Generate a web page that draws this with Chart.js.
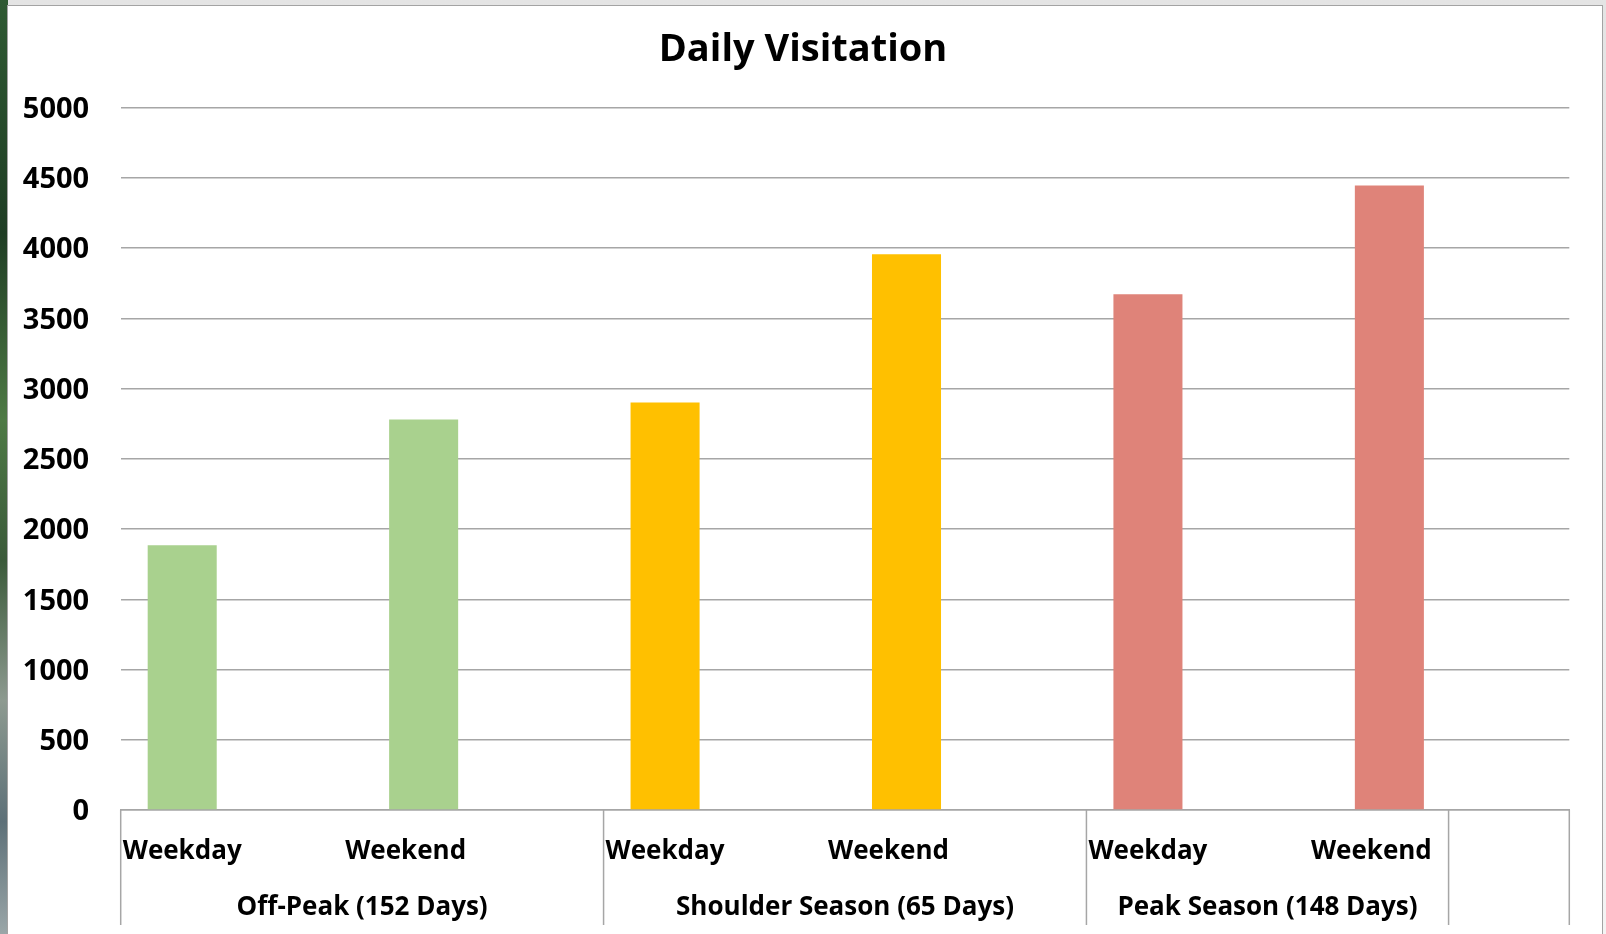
<!DOCTYPE html>
<html>
<head>
<meta charset="utf-8">
<title>Daily Visitation</title>
<script src="https://cdn.jsdelivr.net/npm/chart.js@4.4.1/dist/chart.umd.min.js"></script>
<style>
html,body{margin:0;padding:0;}
body{width:1606px;height:934px;overflow:hidden;position:relative;background:linear-gradient(180deg,#e4e4e4,#f4f4f4);}
#photo{position:absolute;left:0;top:0;width:8px;height:934px;
  background:linear-gradient(180deg,#2f5a33 0%,#1f3d24 25%,#4e7a45 45%,#3b5a3a 60%,#8d9a90 75%,#5d7078 88%,#9aa6a8 100%);}
#frame{position:absolute;left:7px;top:5px;width:1596px;height:960px;box-sizing:border-box;background:#fff;border:1.5px solid #a3a3a3;}
canvas{position:absolute;left:0;top:0;}
</style>
</head>
<body>
<div id="photo"></div>
<div id="frame"></div>
<canvas id="chart" width="1606" height="934"></canvas>
<script>
// categories (lower level) and season groups (upper level)
var categories = ['Weekday', 'Weekend', 'Weekday', 'Weekend', 'Weekday', 'Weekend'];
var seasons = ['Off-Peak (152 Days)', 'Shoulder Season (65 Days)', 'Peak Season (148 Days)'];
// daily visitors
var visitors = [1885, 2780, 2900, 3955, 3670, 4445];
// empty second series (leaves the gap to the right of each bar)
var blankSeries = [null, null, null, null, null, null];
var barColors = ['#A9D18E', '#A9D18E', '#FFC000', '#FFC000', '#DF8379', '#DF8379'];

var gridColor = '#a6a6a6';
var fontFamily = '"Open Sans", "DejaVu Sans", sans-serif';

// two-level category axis, drawn below the x axis line
var seasonAxis = {
    id: 'seasonAxis',
    afterDraw: function(chart) {
        var x = chart.scales.x;
        var ctx = chart.ctx;
        var bars = chart.getDatasetMeta(0).data;
        var half = (x.getPixelForValue(1) - x.getPixelForValue(0)) / 2;
        var cuts = [
            x.getPixelForValue(0) - half,
            x.getPixelForValue(2) - half,
            x.getPixelForValue(4) - half,
            x.getPixelForValue(5),
            x.right
        ];
        ctx.save();
        ctx.strokeStyle = gridColor;
        ctx.lineWidth = 1.5;
        cuts.forEach(function(c) {
            ctx.beginPath();
            ctx.moveTo(c, x.top);
            ctx.lineTo(c, x.top + 115);
            ctx.stroke();
        });
        ctx.fillStyle = '#000';
        ctx.textAlign = 'center';
        ctx.textBaseline = 'alphabetic';
        ctx.font = 'bold 26px ' + fontFamily;
        bars.forEach(function(bar, i) {
            ctx.fillText(categories[i], bar.x - (i % 2 ? 18 : 0), x.top + 48.5);
        });
        seasons.forEach(function(s, g) {
            ctx.fillText(s, (cuts[g] + cuts[g + 1]) / 2, x.top + 105);
        });
        ctx.restore();
    }
};

var chart = new Chart(document.getElementById('chart').getContext('2d'), {
    type: 'bar',
    data: {
        labels: categories,
        datasets: [{
            data: visitors,
            backgroundColor: barColors,
            borderWidth: 0,
            yAxisID: 'y'
        }, {
            data: blankSeries,
            yAxisID: 'y'
        }]
    },
    options: {
        responsive: false,
        animation: false,
        categoryPercentage: 0.981,
        barPercentage: 0.583,
        layout: { padding: 0 },
        plugins: {
            legend: { display: false },
            tooltip: { enabled: false },
            title: {
                display: true,
                text: 'Daily Visitation',
                color: '#000',
                font: { family: fontFamily, size: 38, weight: 'bold' },
                padding: { top: 27, bottom: 34.9 }
            }
        },
        scales: {
            x: {
                type: 'category',
                ticks: { display: false },
                grid: { display: false },
                border: { display: true, color: gridColor, width: 1.5 },
                afterFit: function(s) { s.height = 124; }
            },
            y: {
                min: 0,
                max: 5000,
                ticks: {
                    stepSize: 500,
                    padding: 31.5,
                    labelOffset: 2,
                    color: '#000',
                    font: { family: fontFamily, size: 29, weight: 'bold' },
                    callback: function(v) { return String(v); }
                },
                grid: { color: gridColor, lineWidth: 1.5, drawTicks: false },
                border: { display: false },
                afterFit: function(s) { s.width = 120.7; }
            },
            // empty right-hand margin of the plot
            yRight: {
                position: 'right',
                ticks: { display: false },
                grid: { display: false },
                border: { display: false },
                afterFit: function(s) { s.width = 36.7; }
            }
        }
    },
    plugins: [seasonAxis]
});
</script>
</body>
</html>
